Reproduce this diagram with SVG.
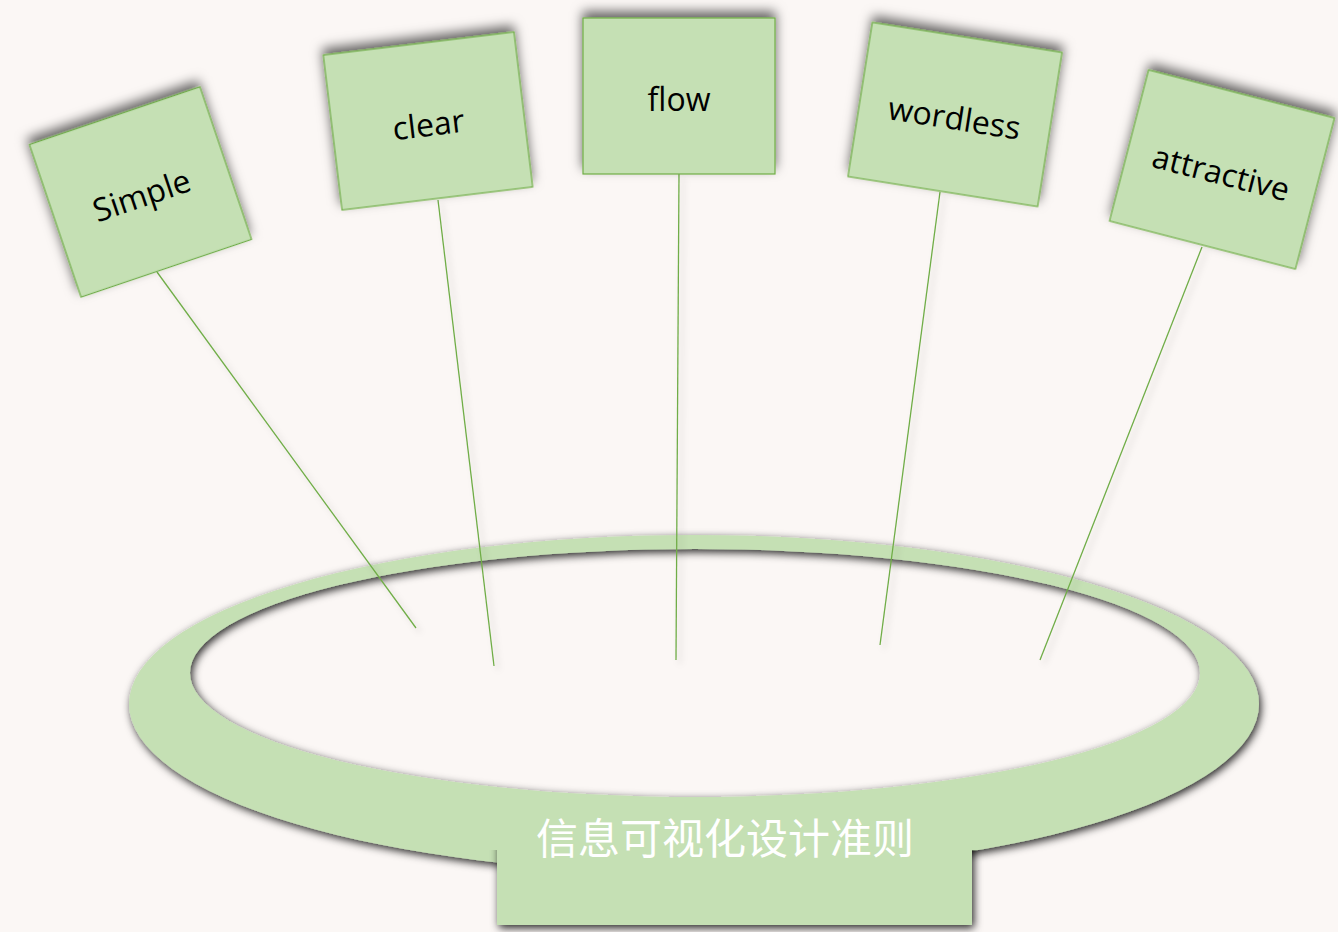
<svg xmlns="http://www.w3.org/2000/svg" width="1338" height="932" viewBox="0 0 1338 932">
<defs>
<style>
.box{fill:#C5E0B4;stroke:#70AD47;stroke-width:1.2}
.lbl{font-family:"Open Sans","Noto Sans","Liberation Sans",sans-serif;font-size:32px;fill:#000;text-anchor:middle}
.conn{stroke:#70AD47;stroke-width:1.3;fill:none}
.title{font-family:"Noto Sans CJK SC","Noto Sans",sans-serif;font-size:42px;fill:#fff;text-anchor:middle}
</style>
<filter id="sh" x="-20%" y="-20%" width="140%" height="140%">
<feDropShadow dx="0" dy="-6" stdDeviation="6" flood-color="#000" flood-opacity="0.6"/>
</filter>
<filter id="ringsh" x="-10%" y="-20%" width="120%" height="140%">
<feDropShadow dx="2" dy="3" stdDeviation="4.5" flood-color="#000" flood-opacity="0.85"/>
</filter>
<filter id="lsh" x="-20%" y="-5%" width="140%" height="110%">
<feDropShadow dx="4" dy="4" stdDeviation="3" flood-color="#000" flood-opacity="0.18"/>
</filter>
<clipPath id="rclip"><rect x="400" y="850" width="700" height="90"/></clipPath>
</defs>
<rect width="1338" height="932" fill="#FBF7F5"/>
<g id="base">
<path filter="url(#ringsh)" fill="#C5E0B4" fill-rule="evenodd" d="M129,704 A565,169 0 1 1 1259,704 A565,169 0 1 1 129,704 Z M190,673 A505,124 0 1 0 1200,673 A505,124 0 1 0 190,673 Z"/>
<g clip-path="url(#rclip)"><rect x="497" y="805" width="475" height="120" fill="#C5E0B4" filter="url(#ringsh)"/></g>
<rect x="497" y="805" width="475" height="120" fill="#C5E0B4"/>
<text class="title" x="725" y="854">信息可视化设计准则</text>
</g>
<g id="connectors" filter="url(#lsh)">
<line class="conn" x1="157" y1="272" x2="416" y2="628"/>
<line class="conn" x1="438" y1="200" x2="494" y2="666"/>
<line class="conn" x1="679" y1="174" x2="676" y2="660"/>
<line class="conn" x1="940" y1="192" x2="880" y2="645"/>
<line class="conn" x1="1202" y1="247" x2="1040" y2="660"/>
</g>
<g id="simple" transform="translate(140.5,192) rotate(-18.7)">
<rect class="box" x="-90" y="-80.5" width="180" height="161" filter="url(#sh)"/>
<text class="lbl" x="0" y="15">Simple</text>
</g>
<g id="clear" transform="translate(428,121) rotate(-6.9)">
<rect class="box" x="-96" y="-78" width="192" height="156" filter="url(#sh)"/>
<text class="lbl" x="0" y="15">clear</text>
</g>
<g id="flow" transform="translate(679,96)">
<rect class="box" x="-96" y="-78" width="192" height="156" filter="url(#sh)"/>
<text class="lbl" x="0" y="15">flow</text>
</g>
<g id="wordless" transform="translate(955,114.5) rotate(9)">
<rect class="box" x="-96" y="-78" width="192" height="156" filter="url(#sh)"/>
<text class="lbl" x="0" y="15">wordless</text>
</g>
<g id="attractive" transform="translate(1222,169.5) rotate(14.5)">
<rect class="box" x="-96" y="-78" width="192" height="156" filter="url(#sh)"/>
<text class="lbl" x="0" y="15">attractive</text>
</g>
</svg>
